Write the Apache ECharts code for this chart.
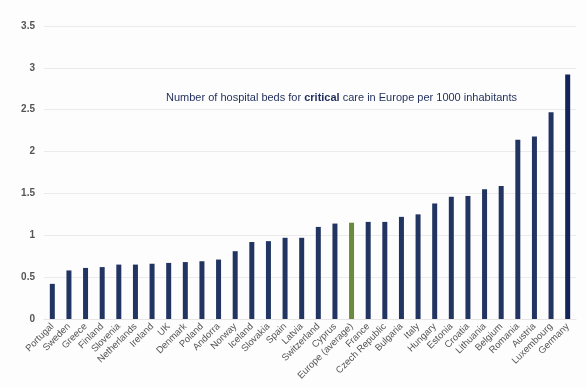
<!DOCTYPE html>
<html>
<head>
<meta charset="utf-8">
<script src="https://cdn.jsdelivr.net/npm/echarts@6/dist/echarts.min.js"></script>
<style>html,body{margin:0;padding:0;background:#fdfdfd}#c{width:586px;height:388px}</style>
</head>
<body>
<div id="c"></div>
<script>
const categories = ["Portugal","Sweden","Greece","Finland","Slovenia","Netherlands","Ireland","UK","Denmark","Poland","Andorra","Norway","Iceland","Slovakia","Spain","Latvia","Switzerland","Cyprus","Europe (average)","France","Czech Republic","Bulgaria","Italy","Hungary","Estonia","Croatia","Lithuania","Belgium","Romania","Austria","Luxembourg","Germany"];
const values = [0.42,0.58,0.61,0.62,0.65,0.65,0.66,0.67,0.68,0.69,0.71,0.81,0.92,0.93,0.97,0.97,1.10,1.14,1.15,1.16,1.16,1.22,1.25,1.38,1.46,1.47,1.55,1.59,2.14,2.18,2.47,2.92];
const highlight = "Europe (average)";
const yTicks = [0,0.5,1,1.5,2,2.5,3,3.5];

const chart = echarts.init(document.getElementById('c'));
chart.setOption({
  backgroundColor: '#fdfdfd',
  animation: false,
  title: {
    left: 161, top: 87,
    text: '{n|Number of hospital beds for }{b|critical}{n| care in Europe per 1000 inhabitants}',
    textStyle: {
      fontWeight: 'normal', fontSize: 11, color: '#1f2d5c',
      rich: {
        n: {fontFamily: 'Liberation Sans, Arial', fontSize: 11, color: '#1f2d5c', fontWeight: 'normal'},
        b: {fontFamily: 'Liberation Sans, Arial', fontSize: 11, color: '#1f2d5c', fontWeight: 'bold'}
      }
    }
  },
  grid: {left: 44, right: 10, top: 26, bottom: 69},
  xAxis: {
    type: 'category', data: categories,
    axisLine: {lineStyle: {color: '#e6e6e6'}},
    axisTick: {show: false},
    axisLabel: {rotate: 45, interval: 0, fontSize: 9.5, color: '#555', fontFamily: 'Liberation Sans, Arial', margin: 6}
  },
  yAxis: {
    type: 'value', min: yTicks[0], max: yTicks[yTicks.length-1], interval: 0.5,
    axisLine: {show: false}, axisTick: {show: false},
    splitLine: {lineStyle: {color: '#ebebeb'}},
    axisLabel: {fontSize: 10, color: '#555', fontWeight: 'bold', fontFamily: 'Liberation Sans, Arial', margin: 9}
  },
  series: [{
    type: 'bar', barWidth: 5,
    data: values.map((v, i) => ({
      value: v,
      itemStyle: {color: categories[i] === highlight ? '#6a8a3c' : (i === values.length-1 ? '#13245a' : '#223462')}
    }))
  }]
});
</script>
</body>
</html>
